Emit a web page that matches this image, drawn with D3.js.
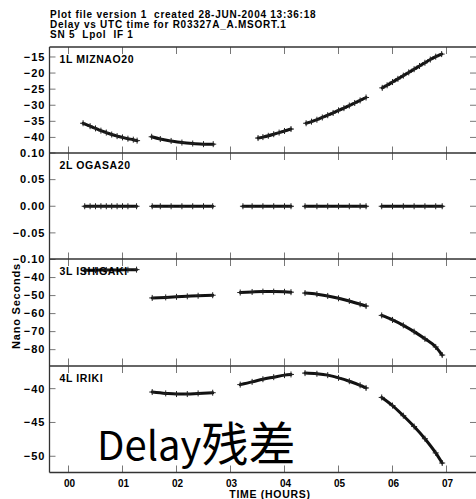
<!DOCTYPE html>
<html>
<head>
<meta charset="utf-8">
<script src="https://cdn.jsdelivr.net/npm/d3@7"></script>
<style>
  html, body { margin: 0; padding: 0; background: #fff; }
  svg text { font-family: "Liberation Sans", Arial, sans-serif; font-weight: bold; fill: #000; white-space: pre; }
</style>
</head>
<body>
<svg id="chart" width="476" height="499"></svg>
<script>
// === Datos ===
const titleLines = [
  'Plot file version 1  created 28-JUN-2004 13:36:18',
  'Delay vs UTC time for R03327A_A.MSORT.1',
  'SN 5  Lpol  IF 1'
];
const hourTicks = [0, 1, 2, 3, 4, 5, 6, 7];
const hourLabels = ['00', '01', '02', '03', '04', '05', '06', '07'];

const stations = ['1L MIZNAO20', '2L OGASA20', '3L ISHIGAKI', '4L IRIKI'];
const yDomains = [[-45, -11.9], [-0.1, 0.1], [-88.8, -29.7], [-52.4, -36.65]];
const yTicks = [
  [-15, -20, -25, -30, -35, -40],
  [0.10, 0.05, 0.00, -0.05, -0.10],
  [-40, -50, -60, -70, -80],
  [-40, -45, -50]
];
const yTickFmt = [d3.format('d'), d3.format('.2f'), d3.format('d'), d3.format('d')];

// segmentos [hora, ns]
const mizna = [
  [[0.27, -35.6], [0.4, -36.5], [0.5, -37.2], [0.6, -37.9], [0.7, -38.5], [0.8, -39.1], [0.9, -39.6], [1.0, -40.0], [1.1, -40.4], [1.2, -40.7], [1.27, -41.0]],
  [[1.54, -39.8], [1.7, -40.5], [1.9, -41.1], [2.1, -41.6], [2.3, -41.9], [2.5, -42.1], [2.68, -42.1]],
  [[3.51, -40.2], [3.6, -39.9], [3.7, -39.5], [3.8, -39.0], [3.9, -38.5], [4.0, -38.0], [4.12, -37.4]],
  [[4.40, -35.6], [4.5, -35.1], [4.6, -34.5], [4.7, -33.8], [4.8, -33.1], [4.9, -32.4], [5.0, -31.6], [5.1, -30.9], [5.2, -30.1], [5.3, -29.3], [5.4, -28.5], [5.51, -27.6]],
  [[5.81, -24.6], [5.9, -23.8], [6.0, -22.8], [6.1, -21.8], [6.2, -20.8], [6.3, -19.8], [6.4, -18.8], [6.5, -17.8], [6.6, -16.8], [6.7, -15.8], [6.8, -14.9], [6.91, -14.1]]
];
const ogasa = [
  [[0.30, 0], [0.4, 0], [0.5, 0], [0.6, 0], [0.7, 0], [0.8, 0], [0.9, 0], [1.0, 0], [1.1, 0], [1.26, 0]],
  [[1.55, 0], [1.7, 0], [1.9, 0], [2.1, 0], [2.3, 0], [2.5, 0], [2.67, 0]],
  [[3.23, 0], [3.4, 0], [3.6, 0], [3.8, 0], [4.0, 0], [4.12, 0]],
  [[4.38, 0], [4.6, 0], [4.8, 0], [5.0, 0], [5.2, 0], [5.4, 0], [5.51, 0]],
  [[5.80, 0], [6.0, 0], [6.2, 0], [6.4, 0], [6.6, 0], [6.8, 0], [6.92, 0]]
];
const ishigaki = [
  [[0.30, -36.0], [0.5, -35.9], [0.7, -35.8], [0.9, -35.8], [1.1, -35.7], [1.26, -35.6]],
  [[1.55, -51.3], [1.8, -51.0], [2.0, -50.7], [2.2, -50.4], [2.4, -50.1], [2.67, -49.8]],
  [[3.18, -48.3], [3.4, -48.0], [3.6, -47.8], [3.8, -47.8], [4.0, -47.9], [4.12, -48.1]],
  [[4.38, -48.6], [4.6, -49.2], [4.8, -50.2], [5.0, -51.5], [5.2, -53.0], [5.4, -54.8], [5.51, -55.8]],
  [[5.80, -61.0], [6.0, -63.5], [6.2, -66.5], [6.4, -70.0], [6.6, -74.0], [6.8, -78.5], [6.92, -83.0]]
];
const iriki = [
  [[1.55, -40.5], [1.8, -40.7], [2.0, -40.8], [2.2, -40.8], [2.4, -40.7], [2.67, -40.6]],
  [[3.18, -39.4], [3.4, -39.0], [3.6, -38.6], [3.8, -38.3], [4.0, -38.0], [4.12, -37.9]],
  [[4.38, -37.7], [4.6, -37.8], [4.8, -38.0], [5.0, -38.4], [5.2, -38.9], [5.4, -39.5], [5.51, -39.9]],
  [[5.80, -41.3], [6.0, -42.5], [6.2, -44.0], [6.4, -45.6], [6.6, -47.4], [6.8, -49.5], [6.92, -51.0]]
];
const series = [mizna, ogasa, ishigaki, iriki];

// === Layout ===
const left = 49.5, right = 476;
const panelTops = [47, 153, 259, 366];
const panelH = 106.5;
const tickLen = 6;

const svg = d3.select('#chart');
const x = d3.scaleLinear().domain([-0.352, 7.546]).range([left, right]);

// títulos
svg.append('g').selectAll('text').data(titleLines).join('text')
  .attr('x', 50).attr('y', (d, i) => 17.5 + i * 10.2)
  .attr('font-size', 10).attr('letter-spacing', 0.75).text(d => d);

const line = d3.line().x(d => x(d[0])).y(d => d[1]).curve(d3.curveMonotoneX);

stations.forEach((name, i) => {
  const top = panelTops[i], bot = top + panelH;
  const y = d3.scaleLinear().domain(yDomains[i]).range([bot, top]);
  const g = svg.append('g');

  // ticks
  g.append('g').attr('stroke', '#777').attr('stroke-width', 1)
    .selectAll('line.yl').data(yTicks[i]).join('line')
    .attr('x1', left).attr('x2', left + tickLen)
    .attr('y1', d => y(d)).attr('y2', d => y(d));
  g.append('g').attr('stroke', '#777').attr('stroke-width', 1)
    .selectAll('line.yr').data(yTicks[i]).join('line')
    .attr('x1', right - tickLen).attr('x2', right)
    .attr('y1', d => y(d)).attr('y2', d => y(d));
  g.append('g').attr('stroke', '#777').attr('stroke-width', 1)
    .selectAll('line').data(hourTicks).join('line')
    .attr('x1', d => x(d)).attr('x2', d => x(d))
    .attr('y1', top).attr('y2', top + tickLen + 1);
  g.append('g').attr('stroke', '#777').attr('stroke-width', 1)
    .selectAll('line').data(hourTicks).join('line')
    .attr('x1', d => x(d)).attr('x2', d => x(d))
    .attr('y1', bot - tickLen - 1).attr('y2', bot);

  // etiquetas eje y
  g.append('g').selectAll('text').data(yTicks[i]).join('text')
    .attr('x', 45.5).attr('y', d => y(d)).attr('dy', '0.35em')
    .attr('text-anchor', 'end').attr('font-size', 11).attr('letter-spacing', 1)
    .text(d => yTickFmt[i](d));

  // datos
  series[i].forEach(seg => {
    const pts = seg.map(d => [d[0], y(d[1])]);
    g.append('path').attr('d', line(pts))
      .attr('fill', 'none').attr('stroke', '#111').attr('stroke-width', 3)
      .attr('stroke-linecap', 'round');
    g.append('g').selectAll('path').data(pts).join('path')
      .attr('d', d => `M${x(d[0]) - 3},${d[1]}h6M${x(d[0])},${d[1] - 3}v6`)
      .attr('stroke', '#222').attr('stroke-width', 1);
  });

  // nombre de la estación
  g.append('text').attr('x', 59.5).attr('y', top + 15.5)
    .attr('font-size', 10.5).attr('letter-spacing', 0.6).text(name);
});

// marco
const frame = svg.append('g').attr('stroke', '#333').attr('stroke-width', 1.3).attr('fill', 'none');
frame.append('line').attr('x1', left).attr('x2', left)
  .attr('y1', panelTops[0]).attr('y2', panelTops[3] + panelH);
frame.selectAll('line.h').data([...panelTops, panelTops[3] + panelH]).join('line')
  .attr('x1', left).attr('x2', right).attr('y1', d => d).attr('y2', d => d);

// eje x
const bottom = panelTops[3] + panelH;
svg.append('g').selectAll('text').data(hourTicks).join('text')
  .attr('x', d => x(d) + 1).attr('y', bottom + 14)
  .attr('text-anchor', 'middle').attr('font-size', 10)
  .text((d, i) => hourLabels[i]);
svg.append('text').attr('x', 270).attr('y', 498)
  .attr('text-anchor', 'middle').attr('font-size', 10.5).attr('letter-spacing', 0.7)
  .text('TIME (HOURS)');

// título eje y
svg.append('text').attr('transform', 'translate(19.5,306) rotate(-90)')
  .attr('text-anchor', 'middle').attr('font-size', 11).attr('letter-spacing', 0.8)
  .text('Nano Seconds');

// texto superpuesto
const big = svg.append('text').attr('x', 97).attr('y', 460)
  .style('font-family', '"Noto Sans CJK SC", "Noto Sans", sans-serif')
  .style('font-weight', 'normal').attr('font-size', 40);
big.append('tspan').text('Delay');
big.append('tspan').attr('font-size', 47).attr('dy', 1).text('残差');
</script>
</body>
</html>
